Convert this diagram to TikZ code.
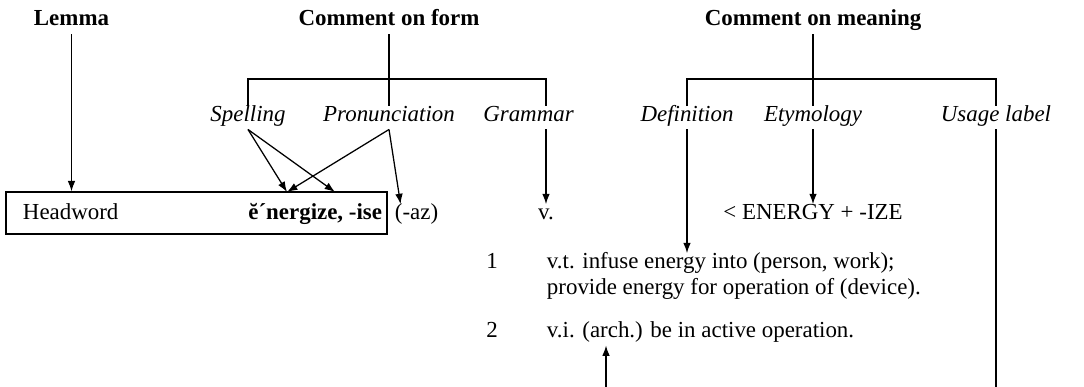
\documentclass[tikz,border=0pt]{standalone}
\usepackage{fontspec}
\setmainfont{Liberation Serif}
\usetikzlibrary{arrows.meta, positioning}

\begin{document}
\begin{tikzpicture}[
    x=0.025cm, y=-0.025cm,
    every node/.style={font=\fontsize{16.3}{18.5}\selectfont, text height=0.7em, text depth=0.25em},
    head/.style={anchor=base, font=\fontsize{16.3}{18.5}\selectfont\bfseries},
    field/.style={anchor=base, font=\fontsize{16.3}{18.5}\selectfont\itshape},
    entry/.style={anchor=base},
    arrow/.style={-{Latex[length=2.6mm, width=1.9mm]}, line width=0.9pt},
    bracket/.style={line width=0.9pt}
    ]
    \useasboundingbox (0,0) rectangle (1084,387);

    % top headings
    \node[head] (lemma) at (71.5,26) {Lemma};
    \node[head] (form) at (389,26) {Comment on form};
    \node[head] (meaning) at (813,26) {Comment on meaning};

    % kinds of comment
    \node[field] (spell) at (248,121) {Spelling};
    \node[field] (pron) at (389,121) {Pronunciation};
    \node[field] (gram) at (528.5,121) {Grammar};
    \node[field] (defn) at (687,121) {Definition};
    \node[field] (etym) at (813,121) {Etymology};
    \node[field] (usage) at (996,121) {Usage label};

    % the entry
    \node[draw, line width=0.9pt, minimum width=9.525cm, minimum height=1.05cm, inner sep=0pt] (box) at (196.5,213) {};
    \node[entry, anchor=base west] (hw) at (18,219) {Headword};
    \node[entry, anchor=base east] (lem) at (387,219) {\textbf{ĕ´nergize, -ise}};
    \node[entry, anchor=base west] (az) at (390,219) {(-az)};
    \node[entry] (verb) at (546,219) {v.};
    \node[entry] (origin) at (813,219) {< ENERGY + -IZE};
    \node[entry] (num1) at (492,268) {1};
    \node[entry, anchor=base west] (sense1) at (542,268) {v.t. infuse energy into (person, work);};
    \node[entry, anchor=base west] (sense1b) at (542,294) {provide energy for operation of (device).};
    \node[entry] (num2) at (492,337) {2};
    \node[entry, anchor=base west] (sense2) at (542,337) {v.i. (arch.) be in active operation.};

    \coordinate (fbar) at (0,79);
    \coordinate (gramline) at (546,0);
    \coordinate (stress) at (287,192);
    \coordinate (suffix) at (335,192);
    \coordinate (usebot) at (996,387);
    \coordinate (archbot) at (606,387);

    % brackets
    \draw[bracket] (form) -- (pron);
    \draw[bracket] (spell.north) |- (gramline |- fbar) -- (gramline |- gram.north);
    \draw[bracket] (meaning) -- (etym);
    \draw[bracket] (defn.north) |- (usage.north |- fbar) -- (usage.north);

    % arrows
    \draw[arrow] (lemma) -- (lemma |- box.north);
    \draw[arrow] (spell.south) -- (stress);
    \draw[arrow] (spell.south) -- (suffix);
    \draw[arrow] (pron.south) -- (stress);
    \draw[arrow] (pron.south) -- ([xshift=-0.4cm]az.north);
    \draw[arrow] (gramline |- gram.south) -- (verb);
    \draw[arrow] (defn) -- (defn |- sense1.north);
    \draw[arrow] (etym) -- (origin);
    \draw[bracket] (usage) -- (usebot);
    \draw[arrow] (archbot) -- (archbot |- sense2.south);

\end{tikzpicture}
\end{document}
